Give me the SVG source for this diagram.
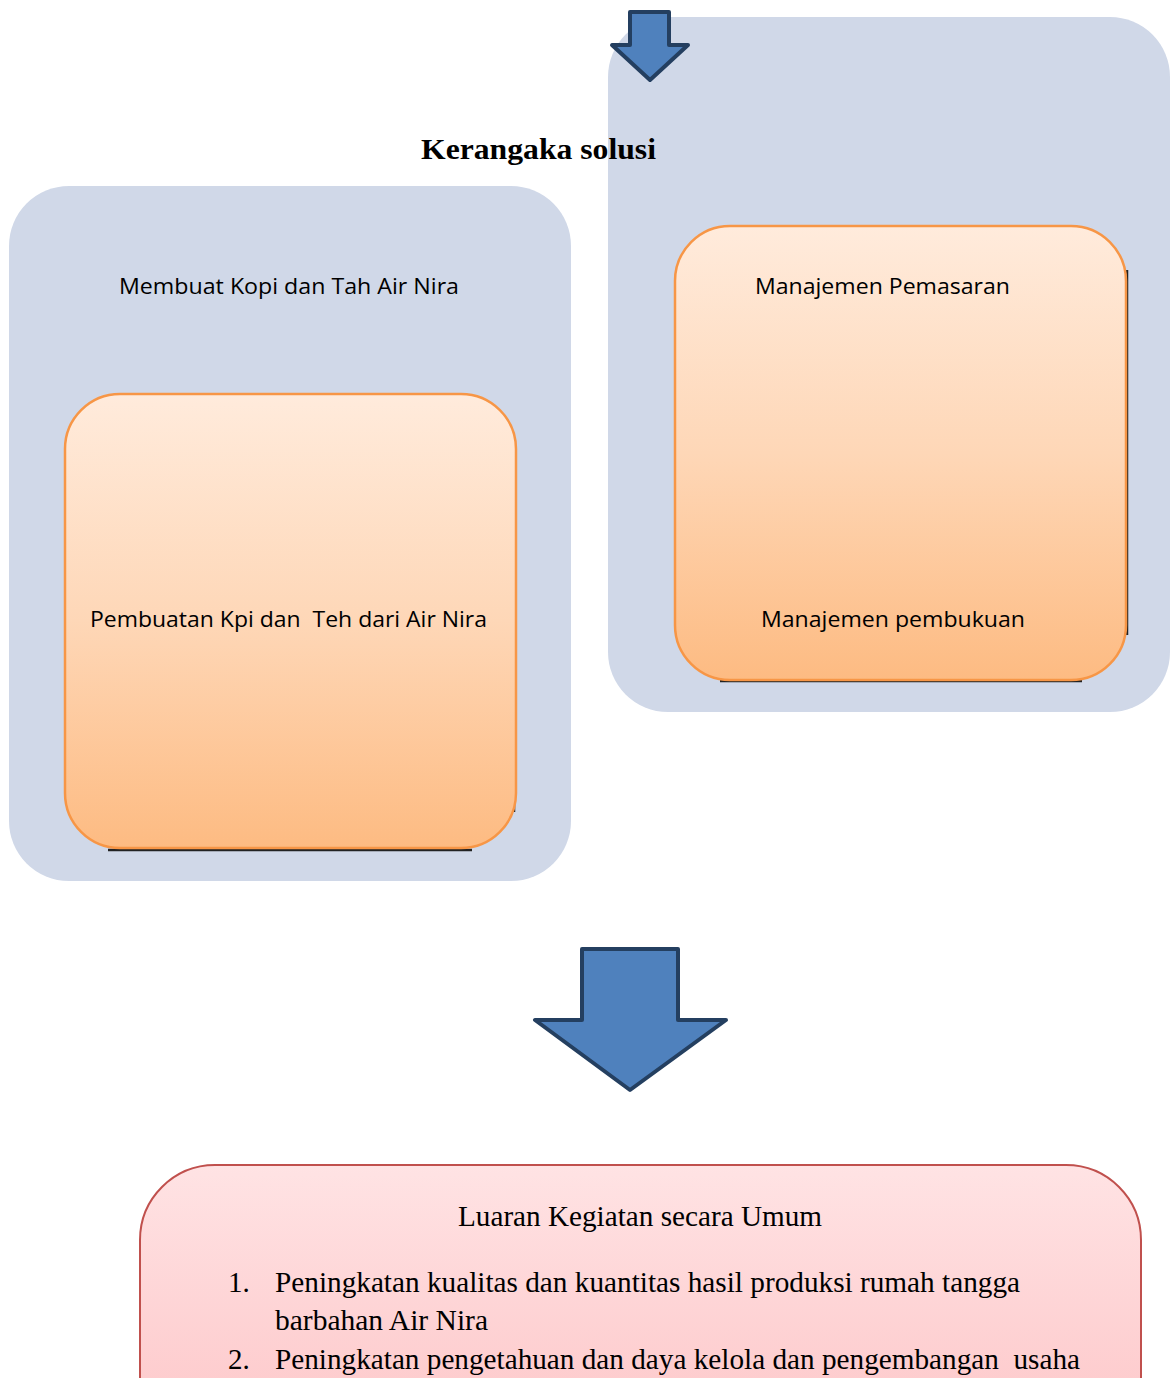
<svg xmlns="http://www.w3.org/2000/svg" width="1172" height="1378" viewBox="0 0 1172 1378">
<defs>
<linearGradient id="og" x1="0" y1="0" x2="0" y2="1">
<stop offset="0" stop-color="#FFEBDC"/>
<stop offset="0.5" stop-color="#FED7B7"/>
<stop offset="1" stop-color="#FDBB82"/>
</linearGradient>
<linearGradient id="pg" x1="0" y1="0" x2="0" y2="1">
<stop offset="0" stop-color="#FFE3E4"/>
<stop offset="1" stop-color="#FDC4C6"/>
</linearGradient>
<style>
.panel{fill:#D0D8E8}
.obox{fill:url(#og);stroke:#F79646;stroke-width:2.5}
.shadow{fill:none;stroke:#222;stroke-width:2.5}
.arrow{fill:#4F81BD;stroke:#243F60;stroke-width:4;stroke-linejoin:round}
.sans{font-family:"Open Sans","Liberation Sans",sans-serif;font-size:22.5px;fill:#000}
.serif{font-family:"Liberation Serif","Times New Roman",serif;fill:#000}
</style>
</defs>
<rect width="1172" height="1378" fill="#fff"/>
<g id="panel-right"><rect class="panel" x="608" y="17" width="562" height="695" rx="60"/></g>
<g id="panel-left"><rect class="panel" x="9" y="186" width="562" height="695" rx="60"/></g>
<g id="title"><text class="serif" x="421" y="159" font-size="30" font-weight="bold" textLength="235" lengthAdjust="spacingAndGlyphs">Kerangaka solusi</text></g>
<g id="label-left"><text class="sans" x="119" y="294" textLength="340" lengthAdjust="spacingAndGlyphs">Membuat Kopi dan Tah Air Nira</text></g>
<g id="box-left">
<path class="shadow" d="M108 850 H472 M514 440 V812"/>
<rect class="obox" x="65" y="394" width="451" height="454" rx="55"/>
<text class="sans" x="90" y="627" textLength="397" lengthAdjust="spacingAndGlyphs" xml:space="preserve">Pembuatan Kpi dan  Teh dari Air Nira</text>
</g>
<g id="box-right">
<path class="shadow" d="M720 681 H1082 M1127 270 V635"/>
<rect class="obox" x="675" y="226" width="451" height="454" rx="55"/>
<text class="sans" x="755" y="294" textLength="255" lengthAdjust="spacingAndGlyphs">Manajemen Pemasaran</text>
<text class="sans" x="761" y="627" textLength="264" lengthAdjust="spacingAndGlyphs">Manajemen pembukuan</text>
</g>
<g id="connectors">
<path class="arrow" d="M630 12 H669 V45 H688 L650 80 L612 45 H630 Z"/>
<path class="arrow" d="M582 949 H678 V1020 H726 L630 1090 L535 1020 H582 Z"/>
</g>
<g id="box-output">
<rect x="140" y="1165" width="1001" height="300" rx="75" fill="url(#pg)" stroke="#C0504D" stroke-width="2"/>
<text class="serif" x="458" y="1226" font-size="29" textLength="364" lengthAdjust="spacingAndGlyphs">Luaran Kegiatan secara Umum</text>
<text class="serif" x="228" y="1292" font-size="29">1.</text>
<text class="serif" x="275" y="1292" font-size="29" textLength="745" lengthAdjust="spacingAndGlyphs">Peningkatan kualitas dan kuantitas hasil produksi rumah tangga</text>
<text class="serif" x="275" y="1330" font-size="29" textLength="213" lengthAdjust="spacingAndGlyphs">barbahan Air Nira</text>
<text class="serif" x="228" y="1369" font-size="29">2.</text>
<text class="serif" x="275" y="1369" font-size="29" textLength="805" lengthAdjust="spacingAndGlyphs" xml:space="preserve">Peningkatan pengetahuan dan daya kelola dan pengembangan  usaha</text>
</g>
</svg>
